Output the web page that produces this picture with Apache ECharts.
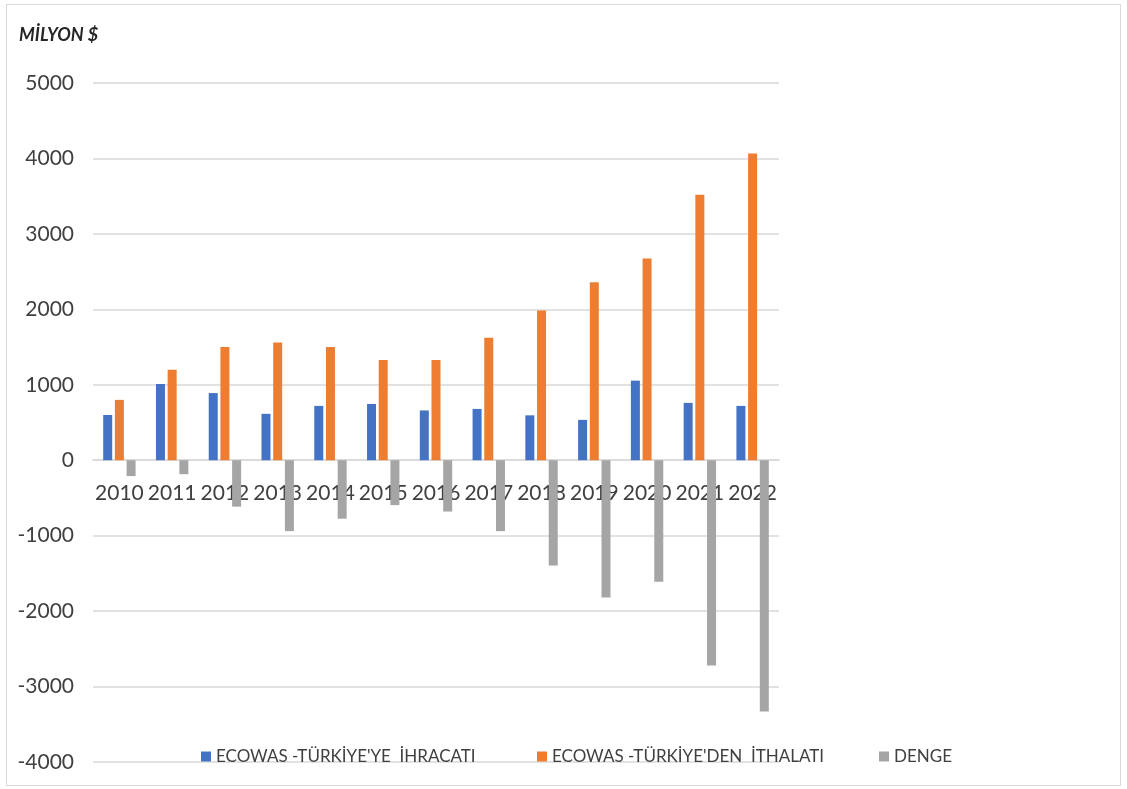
<!DOCTYPE html>
<html>
<head>
<meta charset="utf-8">
<script src="https://cdn.jsdelivr.net/npm/echarts@6/dist/echarts.min.js"></script>
<style>
html,body{margin:0;padding:0;background:#fff;}
#frame{position:absolute;left:6px;top:4px;width:1113px;height:780px;border:1px solid #d9d9d9;}
#chart{position:absolute;left:0;top:0;width:1127px;height:789px;}
</style>
</head>
<body>
<div id="frame"></div>
<div id="chart"></div>
<script>
const categories = ['2010','2011','2012','2013','2014','2015','2016','2017','2018','2019','2020','2021','2022'];
const exportsToTurkey = [600, 1010, 890, 615, 720, 745, 660, 680, 595, 535, 1055, 760, 720];
const importsFromTurkey = [800, 1200, 1500, 1560, 1500, 1330, 1330, 1625, 1985, 2360, 2675, 3520, 4065];
const balance = [-210, -185, -615, -940, -775, -595, -680, -940, -1395, -1820, -1610, -2720, -3330];
const seriesNames = ["ECOWAS -TÜRKİYE'YE  İHRACATI", "ECOWAS -TÜRKİYE'DEN  İTHALATI", "DENGE"];
const yTicks = {min: -4000, max: 5000, interval: 1000};

const chart = echarts.init(document.getElementById('chart'));
const FONT = 'Lato, "Open Sans", sans-serif';
const legendText = {fontFamily: FONT, fontSize: 17, color: '#404040'};
const gridTop = 83, gridBottom = 27, chartH = 789;
const plotH = chartH - gridTop - gridBottom;
// distance from grid bottom edge up to the zero line
const zeroOffset = plotH * (0 - yTicks.min) / (yTicks.max - yTicks.min);
chart.setOption({
  animation: false,
  color: ['#4472C4', '#ED7D31', '#A5A5A5'],
  title: {
    text: 'MİLYON $',
    left: 14, top: 21,
    textStyle: {fontFamily: FONT, fontSize: 18, fontWeight: 'bold', fontStyle: 'italic', color: '#262626'}
  },
  legend: [
    {data: [seriesNames[0]], left: 196, top: 743, itemWidth: 10, itemHeight: 10, itemGap: 0, textStyle: legendText, icon: 'rect'},
    {data: [seriesNames[1]], left: 532, top: 743, itemWidth: 10, itemHeight: 10, itemGap: 0, textStyle: legendText, icon: 'rect'},
    {data: [seriesNames[2]], left: 874, top: 743, itemWidth: 10, itemHeight: 10, itemGap: 0, textStyle: legendText, icon: 'rect'}
  ],
  grid: {left: 93, right: 348, top: gridTop, bottom: gridBottom, containLabel: false, outerBoundsMode: 'none'},
  xAxis: {
    type: 'category',
    data: categories,
    position: 'bottom',
    offset: -zeroOffset,
    axisLine: {onZero: false, lineStyle: {color: '#d9d9d9', width: 1.5}},
    axisTick: {show: false},
    axisLabel: {fontFamily: FONT, fontSize: 21, color: '#404040', margin: 23, interval: 0, hideOverlap: false}
  },
  yAxis: {
    type: 'value',
    min: yTicks.min, max: yTicks.max, interval: yTicks.interval,
    axisLine: {show: false},
    axisTick: {show: false},
    splitLine: {lineStyle: {color: '#d9d9d9', width: 1.5}},
    axisLabel: {fontFamily: FONT, fontSize: 21, color: '#404040', margin: 19, formatter: v => String(v)}
  },
  series: [
    {name: seriesNames[0], type: 'bar', data: exportsToTurkey, barWidth: 9, barGap: '30%', barCategoryGap: '40%'},
    {name: seriesNames[1], type: 'bar', data: importsFromTurkey, barWidth: 9, barGap: '30%', barCategoryGap: '40%'},
    {name: seriesNames[2], type: 'bar', data: balance, barWidth: 9, barGap: '30%', barCategoryGap: '40%'}
  ]
});
</script>
</body>
</html>
